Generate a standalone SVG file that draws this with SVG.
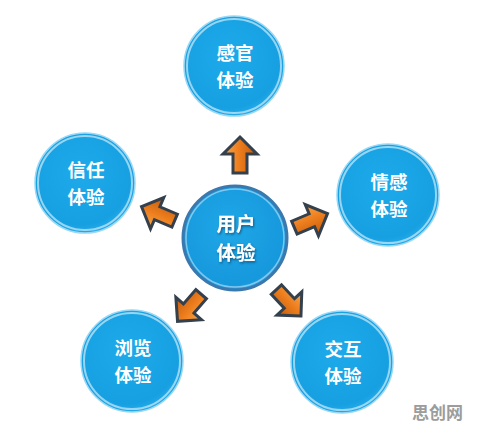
<svg xmlns="http://www.w3.org/2000/svg" width="477" height="431" viewBox="0 0 477 431">
<defs>
<radialGradient id="gBall" cx="0.45" cy="0.4" r="0.65">
<stop offset="0" stop-color="#1eaaea"/>
<stop offset="0.8" stop-color="#16a0e2"/>
<stop offset="1" stop-color="#2fb0ea"/>
</radialGradient>
<radialGradient id="gCenter" cx="0.45" cy="0.4" r="0.65">
<stop offset="0" stop-color="#1fa8e8"/>
<stop offset="0.85" stop-color="#1698dc"/>
<stop offset="1" stop-color="#3aa8df"/>
</radialGradient>
<linearGradient id="gArrow" x1="0" y1="0" x2="1" y2="0">
<stop offset="0" stop-color="#f9a64a"/>
<stop offset="0.45" stop-color="#ee7f1e"/>
<stop offset="1" stop-color="#c25a0c"/>
</linearGradient>
<path id="arrow" d="M0,-19 L17,-2 L7,-2 L7,17 L-7,17 L-7,-2 L-17,-2 Z"/>
<filter id="ts" x="-20%" y="-20%" width="140%" height="140%">
<feDropShadow dx="1" dy="1.5" stdDeviation="0.8" flood-color="#0a3a60" flood-opacity="0.7"/>
</filter>
</defs>
<style>
.ball{fill:url(#gBall);stroke:#9ad8f6;stroke-width:1.5}
.rim{fill:none;stroke:#ffffff;stroke-opacity:0.55;stroke-width:2}
.core{fill:url(#gCenter);stroke:#3a78ad;stroke-width:3}
.corerim{fill:none;stroke:#a9dcf6;stroke-opacity:0.7;stroke-width:1.5}
.lbl{font-family:"Noto Sans CJK SC","Noto Sans",sans-serif;font-weight:bold;font-size:18.5px;fill:#ffffff;text-anchor:middle}
.arw{fill:url(#gArrow);stroke:#34404c;stroke-width:3;stroke-linejoin:miter}
.wm{font-family:"Noto Sans CJK SC","Noto Sans",sans-serif;font-weight:bold;font-size:17px;fill:#9c9c9c}
</style>
<rect width="477" height="431" fill="#ffffff"/>
<g id="connectors">
<use href="#arrow" class="arw" transform="translate(240,156)"/>
<use href="#arrow" class="arw" transform="translate(159,214) rotate(-67)"/>
<use href="#arrow" class="arw" transform="translate(310,221) rotate(67)"/>
<use href="#arrow" class="arw" transform="translate(190,307) rotate(-139)"/>
<use href="#arrow" class="arw" transform="translate(288,302) rotate(137)"/>
</g>
<g id="node-center">
<circle class="core" cx="235" cy="238" r="52"/>
<circle class="corerim" cx="235" cy="238" r="49"/>
<text class="lbl" style="font-size:19.5px" filter="url(#ts)"><tspan x="236" y="231">用户</tspan><tspan x="236" y="259.5">体验</tspan></text>
</g>
<g id="node-sensory">
<circle class="ball" cx="234" cy="66" r="50"/>
<circle class="rim" cx="234" cy="66" r="47"/>
<text class="lbl"><tspan x="235" y="59.5">感官</tspan><tspan x="235" y="86.5">体验</tspan></text>
</g>
<g id="node-trust">
<circle class="ball" cx="85" cy="183" r="50"/>
<circle class="rim" cx="85" cy="183" r="47"/>
<text class="lbl"><tspan x="86" y="176.5">信任</tspan><tspan x="86" y="203.5">体验</tspan></text>
</g>
<g id="node-emotion">
<circle class="ball" cx="388" cy="195" r="51"/>
<circle class="rim" cx="388" cy="195" r="48"/>
<text class="lbl"><tspan x="389" y="188.5">情感</tspan><tspan x="389" y="215.5">体验</tspan></text>
</g>
<g id="node-browse">
<circle class="ball" cx="132" cy="361" r="51"/>
<circle class="rim" cx="132" cy="361" r="48"/>
<text class="lbl"><tspan x="133" y="354.5">浏览</tspan><tspan x="133" y="381.5">体验</tspan></text>
</g>
<g id="node-interact">
<circle class="ball" cx="342" cy="362" r="51"/>
<circle class="rim" cx="342" cy="362" r="48"/>
<text class="lbl"><tspan x="343" y="355.5">交互</tspan><tspan x="343" y="382.5">体验</tspan></text>
</g>
<text class="wm" x="412" y="419">思创网</text>
</svg>
